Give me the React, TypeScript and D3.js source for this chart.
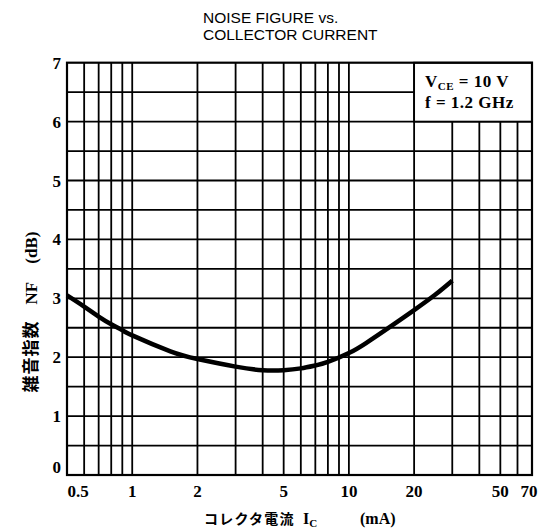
import React from "react";
import * as d3 from "d3";

const currentMA = [0.5, 0.6, 0.7, 0.8, 0.9, 1.0, 1.5, 2, 3, 4, 5, 6, 7, 8, 10, 12, 15, 20, 25, 30];
const noiseDB = [3.05, 2.86, 2.69, 2.56, 2.46, 2.37, 2.1, 1.97, 1.84, 1.78, 1.78, 1.81, 1.86, 1.92, 2.07, 2.24, 2.48, 2.8, 3.06, 3.3];

const xGrid = [0.6, 0.7, 0.8, 0.9, 1, 2, 3, 4, 5, 6, 7, 8, 9, 10, 20, 30, 40, 50, 60];
const xTickLabels = [0.5, 1, 2, 5, 10, 20, 50, 70];
const yTickLabels = [0, 1, 2, 3, 4, 5, 6, 7];
const yGrid = d3.range(0.5, 7, 0.5);

const W = 550, H = 529;
const L = 67, R = 532, T = 62.7, B = 475;

export default function App() {
  const x = d3.scaleLog().domain([0.5, 70]).range([L, R]);
  const y = d3.scaleLinear().domain([0, 7]).range([B, T]);
  const line = d3.line<number>()
    .x((_, i) => x(currentMA[i]))
    .y((d) => y(d))
    .curve(d3.curveNatural);
  const serif = "'Liberation Serif', 'DejaVu Serif', serif";
  const sans = "'Liberation Sans', Arial, sans-serif";
  const cjk = "'Noto Sans CJK JP', sans-serif";
  return (
    <svg width={W} height={H} style={{ position: "absolute", left: 0, top: 0, background: "#fff" }}>
      <rect x={0} y={0} width={W} height={H} fill="#fff" />
      <text x={203} y={23} fontFamily={sans} fontSize={15.5} fill="#000">NOISE FIGURE vs.</text>
      <text x={203} y={40} fontFamily={sans} fontSize={15.5} fill="#000">COLLECTOR CURRENT</text>
      {yGrid.map((v) => (
        <line key={"h" + v} x1={L} x2={R} y1={y(v)} y2={y(v)} stroke="#000" strokeWidth={1.8} />
      ))}
      {xGrid.map((v) => (
        <line key={"v" + v} x1={x(v)} x2={x(v)} y1={B} y2={T} stroke="#000" strokeWidth={1.8} />
      ))}
      <rect x={x(20)} y={y(7)} width={x(70) - x(20)} height={y(6) - y(7)} fill="#fff" stroke="#000" strokeWidth={1.8} />
      <rect x={L} y={T} width={R - L} height={B - T} fill="none" stroke="#000" strokeWidth={2.2} />
      <path d={line(noiseDB) || ""} fill="none" stroke="#000" strokeWidth={4.5} strokeLinecap="butt" />
      {yTickLabels.map((v) => (
        <text key={"yl" + v} x={61} y={v === 0 ? y(v) - 2 : y(v) + 6} textAnchor="end" fontFamily={serif} fontWeight="bold" fontSize={17} fill="#000">{v}</text>
      ))}
      {xTickLabels.map((v) => (
        <text key={"xl" + v} x={v === 0.5 ? 78 : v === 70 ? 529 : x(v)} y={497} textAnchor="middle" fontFamily={serif} fontWeight="bold" fontSize={17} fill="#000">{v === 0.5 ? "0.5" : String(v)}</text>
      ))}
      <text x={425} y={87} fontFamily={serif} fontWeight="bold" fontSize={17} letterSpacing={0.5} fill="#000">
        V<tspan fontSize={11} dy={3}>CE</tspan><tspan dy={-3}> = 10 V</tspan>
      </text>
      <text x={425} y={108} fontFamily={serif} fontWeight="bold" fontSize={17} letterSpacing={0.5} fill="#000">f = 1.2 GHz</text>
      <text x={204} y={524} fontFamily={cjk} fontWeight="bold" fontSize={14} letterSpacing={1.2} fill="#000">コレクタ電流</text>
      <text x={303} y={524} fontFamily={serif} fontWeight="bold" fontSize={16} fill="#000">
        I<tspan fontSize={11} dy={3}>C</tspan>
      </text>
      <text x={360} y={524} fontFamily={serif} fontWeight="bold" fontSize={16} fill="#000">(mA)</text>
      <text transform={`translate(37, 312) rotate(-90)`} textAnchor="middle" fontFamily={serif} fontWeight="bold" fontSize={17} fill="#000">
        <tspan fontFamily={cjk} letterSpacing={1}>雑音指数</tspan>
        <tspan dx={16}>NF</tspan>
        <tspan dx={18}>(dB)</tspan>
      </text>
    </svg>
  );
}
